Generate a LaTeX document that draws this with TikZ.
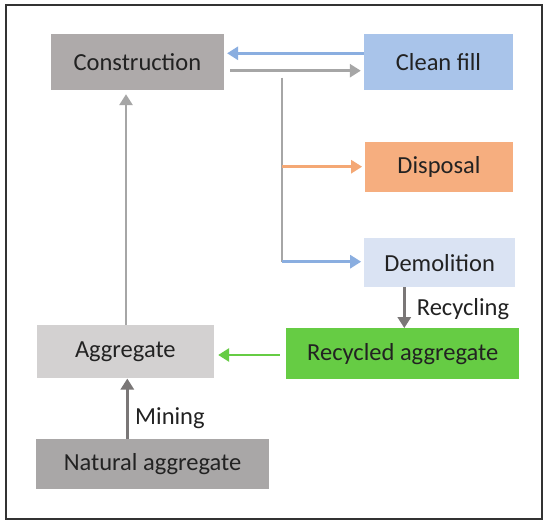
\documentclass[tikz,border=0pt]{standalone}
\usepackage{fontspec}
\setmainfont{Carlito}
\usetikzlibrary{arrows.meta,calc}
\definecolor{cgray}{HTML}{AEAAAA}
\definecolor{cblue}{HTML}{A9C4EA}
\definecolor{corange}{HTML}{F6AE7F}
\definecolor{clblue}{HTML}{DAE3F3}
\definecolor{cgreen}{HTML}{66CC44}
\definecolor{clgray}{HTML}{D3D1D1}
\definecolor{cdgray}{HTML}{A9A7A7}
\definecolor{agray}{HTML}{A6A6A6}
\definecolor{ablue}{HTML}{8AAEE0}
\definecolor{aorange}{HTML}{F4A875}
\definecolor{agreen}{HTML}{66CC44}
\definecolor{adgray}{HTML}{7A7777}
\definecolor{txt}{HTML}{222222}
\tikzset{
  box/.style={rectangle, inner sep=0pt, text=txt, font=\fontsize{24.5}{29}\selectfont},
  lbl/.style={inner sep=0pt, anchor=west, text=txt, font=\fontsize{24.5}{29}\selectfont},
  arr/.style={line width=2.8pt, -{Triangle[length=11pt,width=13pt]}},
  ln/.style={line width=2.8pt}
}
\begin{document}
\begin{tikzpicture}[x=1pt,y=-1pt]
\useasboundingbox (0,0) rectangle (550,527);
\fill[white] (0,0) rectangle (550,527);
\draw[line width=1.5pt, draw=black!80] (6,5) rectangle (542,519);
\node[box, fill=cgray, minimum width=173pt, minimum height=56pt] (constr) at (137.4,62) {Construction};
\node[box, fill=cblue, minimum width=149pt, minimum height=56pt] (clean) at (438.5,62) {Clean fill};
\node[box, fill=corange, minimum width=147.4pt, minimum height=50pt] (disp) at (439,166.7) {Disposal};
\node[box, fill=clblue, minimum width=150.7pt, minimum height=48.7pt] (demo) at (439.7,262.7) {Demolition};
\node[box, fill=cgreen, minimum width=233.3pt, minimum height=51pt] (recag) at (402.7,353.8) {Recycled aggregate};
\node[box, fill=clgray, minimum width=177.3pt, minimum height=53.3pt] (agg) at (125.3,351.7) {Aggregate};
\node[box, fill=cdgray, minimum width=233.6pt, minimum height=50.3pt] (nat) at (152.5,464.2) {Natural aggregate};
\coordinate (jtop) at (282,77.6);
\coordinate (jdisp) at (282,166.7);
\coordinate (jbot) at (282,261.7);
% arrows
\draw[arr, draw=ablue, color=ablue] ([yshift=8.7pt]clean.west) -- ([yshift=8.7pt,xshift=3pt]constr.east);
\draw[arr, draw=agray, color=agray] ([yshift=-8.7pt,xshift=6pt]constr.east) -- ([yshift=-8.7pt,xshift=-3pt]clean.west);
\draw[ln, draw=agray] (jtop) -- (jbot);
\draw[arr, draw=aorange, color=aorange] (jdisp) -- ([xshift=-3pt]disp.west |- jdisp);
\draw[arr, draw=ablue, color=ablue] (jbot) -- ([xshift=-3pt]demo.west |- jbot);
\draw[arr, draw=adgray, color=adgray] (demo.south -| 404.3,0) -- (recag.north -| 404.3,0);
\node[lbl] (recy) at (416.7,309) {Recycling};
\draw[arr, draw=agreen, color=agreen] ([xshift=-6pt,yshift=-1.2pt]recag.west) -- ([xshift=4pt]agg.east |- 0,355);
\draw[arr, draw=adgray, color=adgray] (nat.north -| 127.3,0) -- (agg.south -| 127.3,0);
\node[lbl] (mine) at (135,418) {Mining};
\draw[arr, draw=agray, color=agray] (agg.north -| 126,0) -- ([yshift=-4pt]constr.south -| 126,0);
\end{tikzpicture}
\end{document}
